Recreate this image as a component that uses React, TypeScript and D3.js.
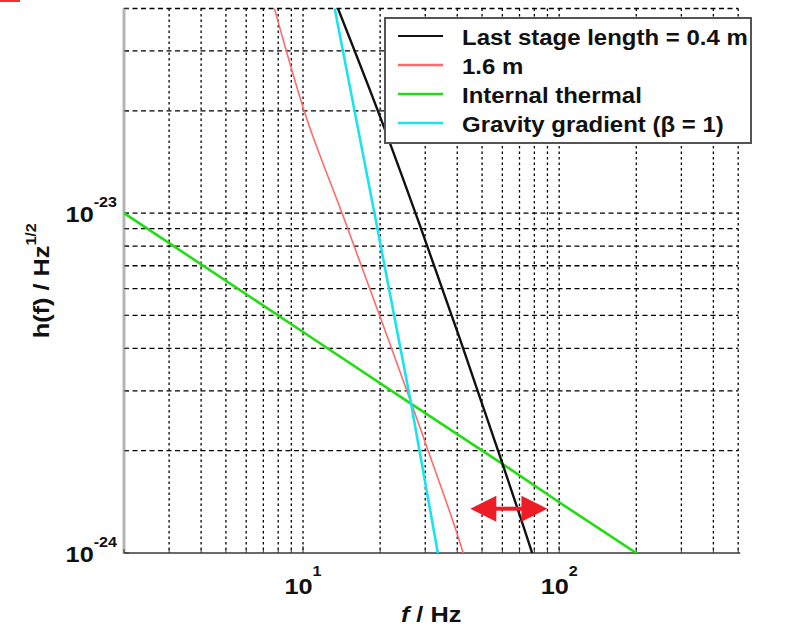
import React from "react";
import * as d3 from "d3";

// ---- data ----
const blackF = [13.6, 20.0, 28.6, 41.0, 58.8, 79.1, 82];
const blackH = [4.05e-23, 1.92e-23, 9.2e-24, 4.26e-24, 1.92e-24, 0.98e-24, 0.9e-24];
const redF = [7.7, 10.1, 14.2, 20.0, 30.8, 42.2, 44];
const redH = [4.05e-23, 2.0e-23, 1.0e-23, 4.95e-24, 2.0e-24, 1.0e-24, 0.9e-24];
const cyanF = [13.25, 19.0, 26.3, 33.6, 34.5];
const cyanH = [4.05e-23, 1.0e-23, 2.8e-24, 1.0e-24, 0.9e-24];
const greenF = [1.9, 2, 10, 26, 60, 100, 200, 210];
const greenH = [1.03e-23, 1.0e-23, 4.47e-24, 2.77e-24, 1.83e-24, 1.41e-24, 1.0e-24, 0.97e-24];

const legendLabels = ["Last stage length = 0.4 m", "1.6 m", "Internal thermal", "Gravity gradient (\u03b2 = 1)"];
const seriesColors = ["#111111", "#ff6a6a", "#22dd11", "#19e3f0"];
const seriesWidths = [2.4, 1.6, 2.6, 2.6];

const xGridValues = [2, 3, 4, 5, 6, 7, 8, 9, 10, 20, 30, 40, 50, 60, 70, 80, 90, 100, 200, 300, 400, 500];
const yGridValues = [1e-24, 2e-24, 3e-24, 4e-24, 5e-24, 6e-24, 7e-24, 8e-24, 9e-24, 1e-23, 2e-23, 3e-23, 4e-23];
const xTickLabels = [{ v: 10, e: "1" }, { v: 100, e: "2" }];
const yTickLabels = [{ v: 1e-23, e: "-23" }, { v: 1e-24, e: "-24" }];

const arrowF = [45, 90];
const arrowH = 1.35e-24;

const W = 790, H = 627;
const L = 124, R = 738.2, T = 8.5, B = 553;

export default function App() {
  const x = d3.scaleLog().domain([2, 500]).range([L, R]);
  const y = d3.scaleLog().domain([1e-24, 4e-23]).range([B, T]);
  const series = [
    { f: blackF, h: blackH },
    { f: redF, h: redH },
    { f: greenF, h: greenH },
    { f: cyanF, h: cyanH },
  ];
  const smooth = d3.line<[number, number]>().x(d => x(d[0])).y(d => y(d[1])).curve(d3.curveMonotoneX);
  const straight = d3.line<[number, number]>().x(d => x(d[0])).y(d => y(d[1]));
  const font = "'Liberation Sans', Arial, sans-serif";
  const SX = 1.15;
  const LSX = 1.09;
  const drawOrder = [2, 1, 3, 0];

  const ax0 = x(arrowF[0]), ax1 = x(arrowF[1]), ay = y(arrowH);
  const hl = 26, hh = 13;

  return (
    <svg width={W} height={H} style={{ position: "absolute", left: 0, top: 0, background: "#fff" }}>
      <defs>
        <clipPath id="plotclip">
          <rect x={L} y={T} width={R - L} height={B - T} />
        </clipPath>
      </defs>
      <rect x={0} y={0} width={W} height={H} fill="#fff" />
      <rect x={0} y={0} width={20} height={2} fill="#f03030" />

      {/* grid */}
      {xGridValues.map(v => (
        <line key={"gx" + v} x1={x(v)} x2={x(v)} y1={T} y2={B} stroke="#000" strokeWidth={1.3} strokeDasharray="2.5,3" />
      ))}
      {yGridValues.map(v => (
        <line key={"gy" + v} x1={L} x2={R} y1={y(v)} y2={y(v)} stroke="#000" strokeWidth={1.3} strokeDasharray="5,3.5" />
      ))}

      {/* axes */}
      <line x1={L} x2={L} y1={T} y2={B + 1} stroke="#b5b5b5" strokeWidth={3} />
      <line x1={L} x2={R + 2} y1={B} y2={B} stroke="#6a6a6a" strokeWidth={2} />
      {xGridValues.map(v => {
        const major = v === 10 || v === 100;
        return <line key={"tx" + v} x1={x(v)} x2={x(v)} y1={B} y2={B - (major ? 7 : 4)} stroke="#333" strokeWidth={1} />;
      })}
      {yGridValues.map(v => (
        <line key={"ty" + v} x1={L} x2={L + 5} y1={y(v)} y2={y(v)} stroke="#333" strokeWidth={1} />
      ))}

      {/* curves */}
      <g clipPath="url(#plotclip)">
        {drawOrder.map(i => {
          const s = series[i];
          const pts = s.f.map((f, k) => [f, s.h[k]] as [number, number]);
          const gen = i === 0 || i === 1 ? smooth : straight;
          return (
            <path key={"s" + i} d={gen(pts) || ""} fill="none" stroke={seriesColors[i]} strokeWidth={seriesWidths[i]} strokeLinejoin="round" />
          );
        })}
      </g>

      {/* arrow */}
      <g fill="#ee1c24" stroke="none">
        <rect x={ax0 + hl - 2} y={ay - 2} width={ax1 - ax0 - 2 * hl + 4} height={4} />
        <path d={`M${ax0},${ay} L${ax0 + hl},${ay - hh} L${ax0 + hl},${ay + hh} Z`} />
        <path d={`M${ax1},${ay} L${ax1 - hl},${ay - hh} L${ax1 - hl},${ay + hh} Z`} />
      </g>

      {/* legend */}
      <rect x={385} y={18} width={366} height={125} fill="#fff" stroke="#555" strokeWidth={2} />
      {legendLabels.map((lab, i) => {
        const base = 45 + i * 29;
        return (
          <g key={"lg" + i}>
            <line x1={398} x2={443} y1={base - 9} y2={base - 9} stroke={seriesColors[i]} strokeWidth={i === 0 ? 2 : 2.5} />
            <text transform={`translate(462,${base}) scale(${LSX},1)`} fontFamily={font} fontWeight="bold" fontSize={22} fill="#111">
              {lab}
            </text>
          </g>
        );
      })}

      {/* y tick labels */}
      {yTickLabels.map(t => (
        <text key={"yl" + t.e} transform={`translate(117,${y(t.v) + 9}) scale(${SX},1)`} textAnchor="end" fontFamily={font} fontWeight="bold" fontSize={22} fill="#111">
          <tspan>10</tspan>
          <tspan fontSize={14} dy={-15}>{t.e}</tspan>
        </text>
      ))}

      {/* x tick labels */}
      {xTickLabels.map(t => (
        <text key={"xl" + t.e} transform={`translate(${x(t.v)},594) scale(${SX},1)`} textAnchor="middle" fontFamily={font} fontWeight="bold" fontSize={22} fill="#111">
          <tspan>10</tspan>
          <tspan fontSize={14} dy={-18}>{t.e}</tspan>
        </text>
      ))}

      {/* axis labels */}
      <text transform={`translate(${(L + R) / 2},622) scale(${SX},1)`} textAnchor="middle" fontFamily={font} fontWeight="bold" fontSize={22} fill="#111">
        <tspan fontStyle="italic">f</tspan>
        <tspan> / Hz</tspan>
      </text>
      <text transform={`translate(49,${(T + B) / 2}) rotate(-90) scale(${SX},1)`} textAnchor="middle" fontFamily={font} fontWeight="bold" fontSize={22} fill="#111">
        <tspan>h(f) / Hz</tspan>
        <tspan fontSize={14} dy={-13}>1/2</tspan>
      </text>
    </svg>
  );
}
